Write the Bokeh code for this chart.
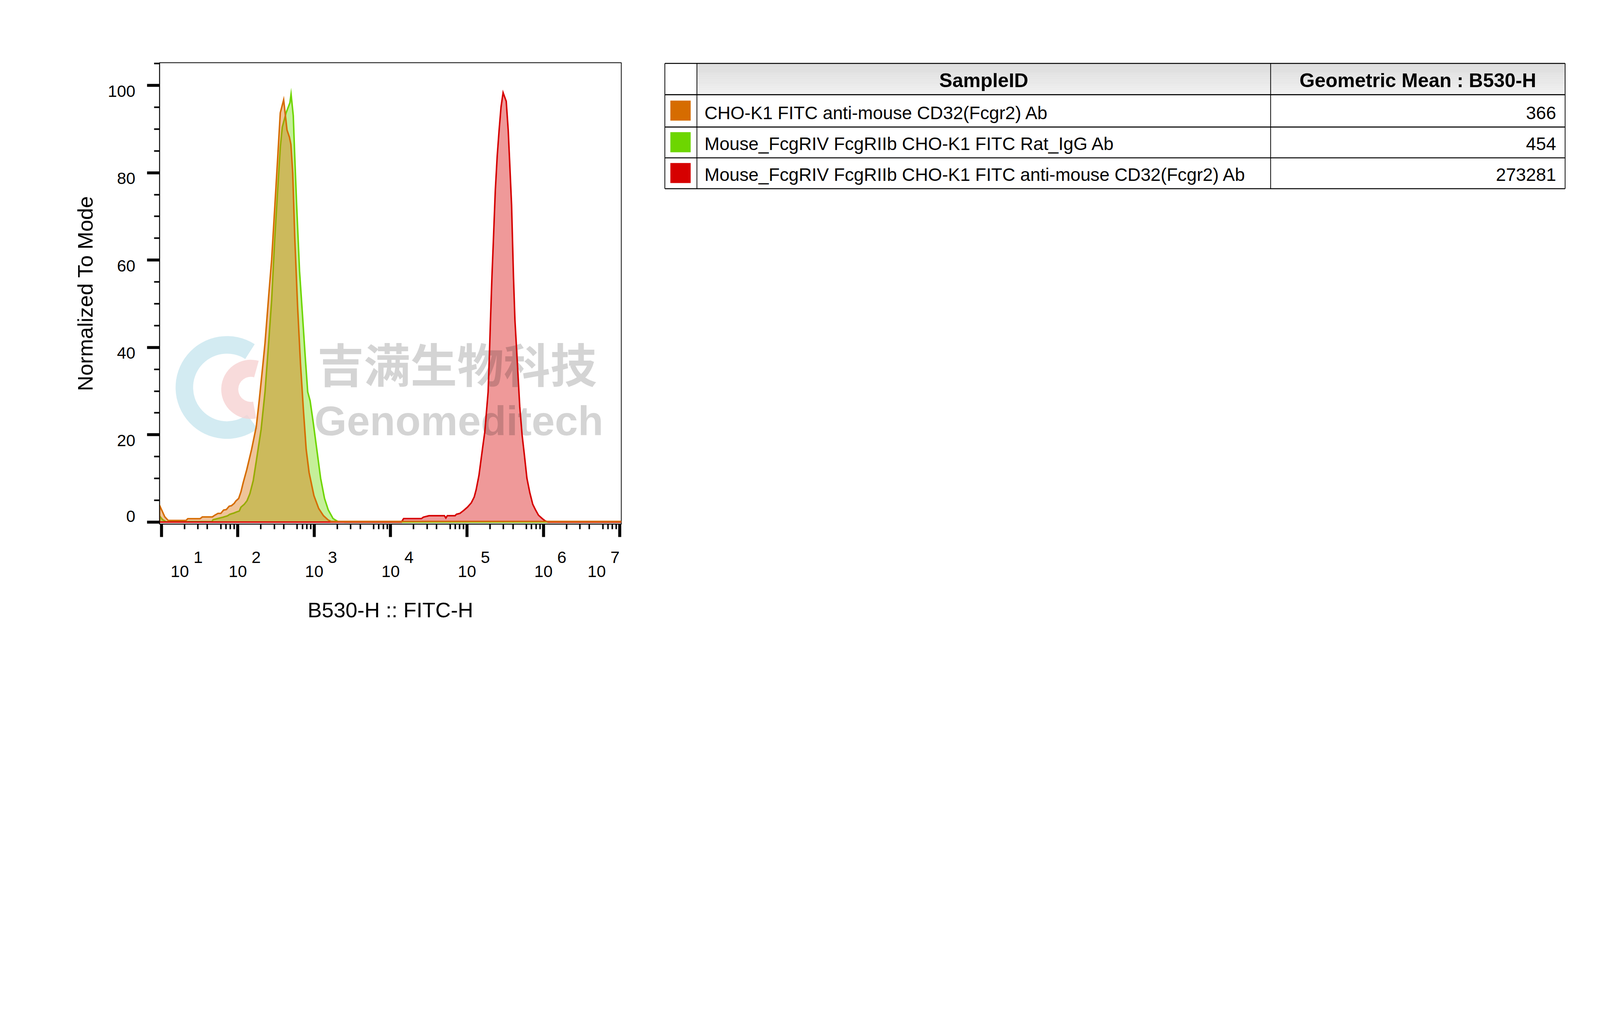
import json
from bokeh.plotting import figure
from bokeh.models import Range1d, FixedTicker, LogAxis, CustomJSTickFormatter
from bokeh.layouts import row
from bokeh.embed import file_html
from bokeh.resources import INLINE
from bokeh.core.properties import value

FONT = "Liberation Sans"
CJK = "Noto Sans CJK SC"

# ---------------- data ----------------
sample_ids = [
    "CHO-K1 FITC anti-mouse CD32(Fcgr2) Ab",
    "Mouse_FcgRIV FcgRIIb CHO-K1 FITC Rat_IgG Ab",
    "Mouse_FcgRIV FcgRIIb CHO-K1 FITC anti-mouse CD32(Fcgr2) Ab",
]
geo_means = [366, 454, 273281]
series_colors = ["#d66c00", "#6dd600", "#d60000"]
table_headers = ["SampleID", "Geometric Mean : B530-H"]
x_title = "B530-H :: FITC-H"
y_title = "Normalized To Mode"

# histogram outlines: log10(B530-H) and normalized-to-mode values
orange_log = [0.976, 0.977, 1.044, 1.088, 1.323, 1.345, 1.506, 1.535, 1.667, 1.696, 1.740,
              1.777, 1.814, 1.850, 1.887, 1.916, 1.953, 1.975, 2.011, 2.041, 2.070, 2.117,
              2.180, 2.242, 2.280, 2.330, 2.356, 2.406, 2.443, 2.481, 2.519, 2.556, 2.600,
              2.644, 2.676, 2.695, 2.719, 2.745, 2.782, 2.820, 2.858, 2.895, 2.933, 2.996,
              3.059, 3.121, 3.184, 3.222, 7.019]
orange_val = [0.2, 3.8, 1.22, 0.38, 0.38, 0.78, 0.78, 1.18, 1.18, 1.55, 1.99,
              1.99, 2.76, 2.87, 3.64, 3.75, 4.29, 4.84, 5.40, 6.93, 9.0, 12.0,
              16.62, 21.89, 27.82, 36.39, 41.00, 52.20, 60.11, 71.32, 82.53, 93.72, 96.69,
              89.78, 88.13, 86.48, 79.89, 65.39, 49.57, 36.39, 25.84, 16.62, 11.34, 6.07,
              3.11, 1.46, 0.47, 0.14, 0.14]

green_log = [0.976, 0.977, 1.015, 1.066, 1.340, 1.350, 1.660, 1.677, 1.806, 1.865, 1.894,
             1.953, 1.982, 2.019, 2.041, 2.085, 2.121, 2.158, 2.202, 2.242, 2.305, 2.356,
             2.406, 2.443, 2.481, 2.519, 2.556, 2.582, 2.632, 2.682, 2.697, 2.726, 2.745,
             2.770, 2.808, 2.846, 2.883, 2.915, 2.946, 2.984, 3.034, 3.084, 3.135, 3.184,
             3.247, 3.310, 3.400, 7.019]
green_val = [0.0, 1.4, 0.56, 0.05, 0.05, 0.12, 0.12, 0.55, 1.11, 1.44, 1.77,
             2.10, 2.32, 2.54, 3.42, 4.08, 4.9, 6.5, 9.5, 13.98, 21.23, 29.80,
             41.66, 50.89, 64.07, 75.28, 85.82, 90.43, 93.72, 96.03, 98.01, 93.07, 83.84,
             72.64, 57.48, 47.60, 37.71, 29.80, 27.82, 23.21, 16.62, 10.03, 5.41, 2.78,
             0.80, 0.14, 0.0, 0.0]

red_log = [0.976, 4.140, 4.170, 4.403, 4.428, 4.503, 4.704, 4.723, 4.742, 4.843, 4.861,
           4.905, 4.955, 5.006, 5.056, 5.094, 5.119, 5.156, 5.181, 5.206, 5.232, 5.257,
           5.276, 5.294, 5.307, 5.326, 5.344, 5.370, 5.395, 5.420, 5.445, 5.472, 5.513,
           5.539, 5.558, 5.583, 5.608, 5.627, 5.659, 5.690, 5.721, 5.747, 5.784, 5.822,
           5.860, 5.897, 5.935, 5.985, 6.023, 6.060, 7.019]
red_val = [0.0, 0.0, 0.8, 0.80, 1.13, 1.46, 1.46, 0.93, 1.46, 1.46, 1.79,
           1.98, 2.65, 3.43, 4.42, 5.75, 7.39, 10.68, 13.98, 17.27, 20.57, 25.84,
           29.80, 39.02, 46.27, 56.16, 64.07, 75.94, 83.84, 89.78, 95.05, 98.34, 96.37,
           89.78, 82.53, 72.64, 56.16, 46.27, 36.39, 26.50, 19.91, 15.96, 10.03, 6.73,
           4.09, 2.78, 1.59, 0.80, 0.27, 0.0, 0.0]

decades = [1, 2, 3, 4, 5, 6, 7]
y_ticks = [0, 20, 40, 60, 80, 100]

# ---------------- scale: layout in CSS px for a 4096 px wide viewport ----------------
S = 4096 / 6384.0
MID = 0.3465  # baseline -> middle of the font box, in em (Liberation Sans)


def px(v):
    return v * S


def fs(v):
    return "%.1fpx" % (v * S)


H = 1665
P_W = round(2600 * S)
TW = 4094 - P_W
XMIN_LOG, XMAX_LOG = 0.976, 7.019
YMIN, YMAX = -0.46, 105.2
PX_PER_UNIT = 17.42          # reference pixels per y unit
Y0_REF = 2082                # reference pixel row of y = 0

frame_l = round(636.4 * S)
frame_r = round(2478 * S)
frame_t = round(249 * S)
frame_b = round(2090 * S)

p = figure(width=P_W, height=H, x_axis_type="log",
           x_range=Range1d(10 ** XMIN_LOG, 10 ** XMAX_LOG), y_range=Range1d(YMIN, YMAX),
           output_backend="svg", toolbar_location=None,
           min_border_left=frame_l, min_border_right=P_W - frame_r,
           min_border_top=frame_t, min_border_bottom=H - frame_b)
p.background_fill_color = "white"
p.border_fill_color = "white"
p.outline_line_color = "black"
p.outline_line_width = px(3)
p.grid.visible = False

# y axis (labels sit a little below their ticks, "0" a little above, as in FlowJo)
ya = p.yaxis[0]
ya.ticker = FixedTicker(ticks=y_ticks, minor_ticks=[v for v in range(5, 106, 5) if v % 20])
ya.formatter = CustomJSTickFormatter(
    code='return (tick == 0) ? "0\\n\\u00a0" : "\\u00a0\\n" + tick;')
ya.axis_line_width = px(3)
ya.major_tick_line_width = px(12)
ya.major_tick_out = round(px(50))
ya.major_tick_in = 0
ya.minor_tick_line_width = px(6)
ya.minor_tick_out = round(px(22))
ya.minor_tick_in = 0
ya.major_label_text_font = FONT
ya.major_label_text_font_size = fs(66)
ya.major_label_text_line_height = 0.62
ya.major_label_text_color = "black"
ya.major_label_standoff = round(px(46))
ya.axis_label = y_title
ya.axis_label_text_font = FONT
ya.axis_label_text_font_size = fs(85)
ya.axis_label_text_font_style = "normal"
ya.axis_label_text_color = "black"
ya.axis_label_standoff = round(px(37))

# x axis: decades with "10" and a raised exponent beside it (padded with no-break spaces)
NB = "\u00a0"
x_tick_text = {}
for k in decades:
    if k == decades[0]:
        top, bot = NB * 16 + str(k), NB * 11 + "10" + NB * 3
    elif k == decades[-1]:
        top, bot = NB * 5 + str(k) + NB * 7, "10" + NB * 10
    else:
        top, bot = NB * 8 + str(k), NB * 3 + "10" + NB * 3
    x_tick_text[k] = top + "\n" + bot

xa = p.xaxis[0]
xa.ticker = FixedTicker(ticks=[10.0 ** k for k in decades],
                        minor_ticks=[m * 10.0 ** k for k in range(1, 7) for m in (2, 3, 4, 6, 7, 8, 9)])
xa.formatter = CustomJSTickFormatter(
    code="const L = %s; return L[String(Math.round(Math.log10(tick)))];" % json.dumps(
        {str(k): v for k, v in x_tick_text.items()}))
xa.axis_line_width = px(3)
xa.major_tick_line_width = px(12)
xa.major_tick_out = round(px(51))
xa.major_tick_in = 0
xa.minor_tick_line_width = px(6)
xa.minor_tick_out = round(px(21))
xa.minor_tick_in = 0
xa.major_label_text_font = FONT
xa.major_label_text_font_size = fs(66)
xa.major_label_text_line_height = 0.787
xa.major_label_text_color = "black"
xa.major_label_standoff = round(px(44))
xa.axis_label = x_title
xa.axis_label_text_font = FONT
xa.axis_label_text_font_size = fs(85)
xa.axis_label_text_font_style = "normal"
xa.axis_label_text_color = "black"
xa.axis_label_standoff = round(px(65))

# medium ticks at 5 x 10^k, drawn at the same place as the main x axis
ax5 = LogAxis(ticker=FixedTicker(ticks=[5 * 10.0 ** k for k in range(1, 7)], minor_ticks=[]),
              formatter=CustomJSTickFormatter(code="return ''"),
              fixed_location=YMIN, axis_line_color=None,
              major_tick_line_width=px(9), major_tick_out=round(px(36)), major_tick_in=0,
              minor_tick_line_color=None, major_label_standoff=0)
p.add_layout(ax5, "below")

# faint logo of the watermark
p.annular_wedge(x=[10 ** 1.858], y=[30.83], inner_radius=px(135), outer_radius=px(205),
                inner_radius_units="screen", outer_radius_units="screen",
                start_angle=1.0, end_angle=5.35, fill_color="#cbe7f0", fill_alpha=0.85,
                line_color=None)
p.annular_wedge(x=[10 ** 2.17], y=[30.4], inner_radius=px(50), outer_radius=px(118),
                inner_radius_units="screen", outer_radius_units="screen",
                start_angle=1.3, end_angle=4.9, fill_color="#f6d2d2", fill_alpha=0.8,
                line_color=None)


def xs(logs):
    return [10.0 ** v for v in logs]


orange_c, green_c, red_c = series_colors
LW = px(6)
p.varea(x=xs(red_log), y1=0, y2=red_val, fill_color=red_c, fill_alpha=0.4)
p.varea(x=xs(green_log), y1=0, y2=green_val, fill_color=green_c, fill_alpha=0.4)
p.line(xs(green_log), green_val, line_color=green_c, line_width=LW, line_join="miter")
p.varea(x=xs(orange_log), y1=0, y2=orange_val, fill_color=orange_c, fill_alpha=0.4)

# watermark text
p.text(x=[10 ** 4.870], y=[36.57], text=["吉满生物科技"], text_font=value(CJK),
       text_font_style="bold", text_font_size=value(fs(186)), text_color="black",
       text_alpha=0.17, text_align="center", text_baseline="middle")
gm_baseline_ref = 1736
p.text(x=[10 ** 4.893], y=[(Y0_REF - (gm_baseline_ref - MID * 166)) / PX_PER_UNIT],
       text=["Genomeditech"], text_font=value(FONT),
       text_font_style="bold", text_font_size=value(fs(166)), text_color="black",
       text_alpha=0.17, text_align="center", text_baseline="middle")

p.line(xs(red_log), red_val, line_color=red_c, line_width=LW, line_join="miter")
p.line(xs(orange_log), orange_val, line_color=orange_c, line_width=LW, line_join="miter")

# ---------------- statistics table (ranges in reference-pixel units) ----------------
# the row layout aligns frames, so the table frame shares the histogram's top/bottom borders
t = figure(width=TW, height=H,
           x_range=Range1d(P_W / S, (P_W + TW) / S),
           y_range=Range1d(frame_b / S, frame_t / S),
           output_backend="svg", toolbar_location=None,
           min_border_left=0, min_border_right=0,
           min_border_top=frame_t, min_border_bottom=H - frame_b,
           x_axis_type=None, y_axis_type=None)
t.outline_line_color = None
t.background_fill_color = "white"
t.border_fill_color = "white"
t.grid.visible = False

col_edges = [2652, 2780, 5069, 6244]
row_edges = [252, 377, 506, 629, 752]

# header gradient
n_band = 16
h_top, h_bot = row_edges[0] + 2, row_edges[1] - 2
for i in range(n_band):
    f = i / (n_band - 1)
    g = int(round(220 + 20 * f))
    t.quad(left=col_edges[1], right=col_edges[3],
           top=h_top + (h_bot - h_top) * i / n_band,
           bottom=h_top + (h_bot - h_top) * (i + 1) / n_band,
           fill_color=(g, g, g), line_color=None)

# grid lines
t.segment(x0=[col_edges[0]] * len(row_edges), x1=[col_edges[-1]] * len(row_edges),
          y0=row_edges, y1=row_edges, line_color="black", line_width=px(4))
t.segment(x0=col_edges, x1=col_edges, y0=[row_edges[0]] * len(col_edges),
          y1=[row_edges[-1]] * len(col_edges), line_color="black", line_width=px(3))

# header text
HFS, RFS = 78, 72
t.text(x=[(col_edges[1] + col_edges[2]) / 2, (col_edges[2] + col_edges[3]) / 2],
       y=[347 - MID * HFS] * 2, text=table_headers, text_font=value(FONT),
       text_font_style="bold", text_font_size=value(fs(HFS)), text_color="black",
       text_align="center", text_baseline="middle")

row_bottoms = row_edges[2:]
row_tops = row_edges[1:-1]
centers = [(a + b) / 2 - 1 for a, b in zip(row_tops, row_bottoms)]
text_y = [b - 31 - MID * RFS for b in row_bottoms]
t.quad(left=[2674] * 3, right=[2755] * 3, top=[c - 40 for c in centers],
       bottom=[c + 40 for c in centers], fill_color=series_colors, line_color=None)
t.text(x=[2810] * 3, y=text_y, text=sample_ids,
       text_font=value(FONT), text_font_size=value(fs(RFS)), text_color="black",
       text_align="left", text_baseline="middle")
t.text(x=[6208] * 3, y=text_y, text=[str(v) for v in geo_means],
       text_font=value(FONT), text_font_size=value(fs(RFS)), text_color="black",
       text_align="right", text_baseline="middle")

layout = row(p, t)
open("out.html", "w").write(file_html(layout, INLINE))
